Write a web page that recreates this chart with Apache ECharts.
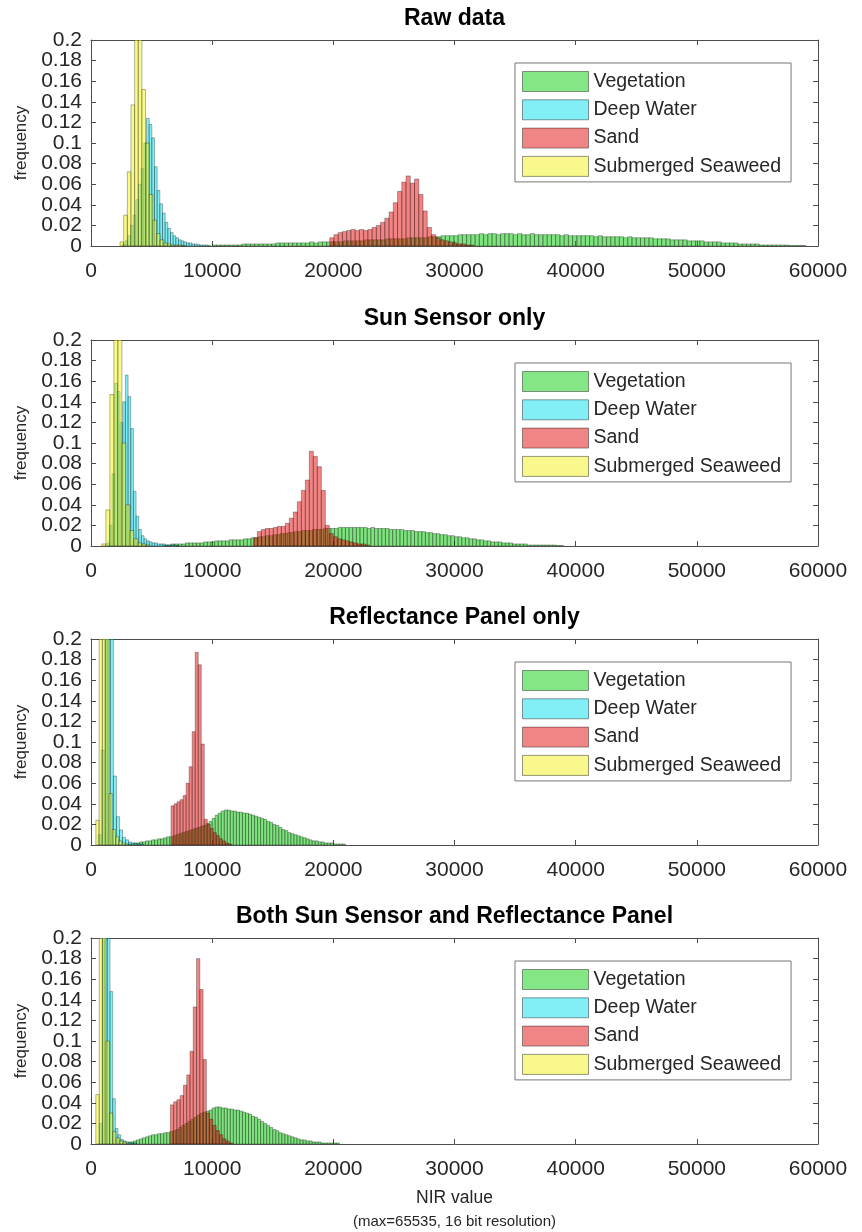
<!DOCTYPE html>
<html><head><meta charset="utf-8">
<script src="https://cdn.jsdelivr.net/npm/echarts@6/dist/echarts.min.js"></script>
<style>html,body{margin:0;padding:0;background:#fff}#c{width:862px;height:1232px}</style>
</head><body><div id="c"></div><script>
// ---------- DATA (histogram frequencies; each series: first bin start, bin width, heights) ----------
const seriesNames = ['Vegetation', 'Deep Water', 'Sand', 'Submerged Seaweed'];
const panelTitles = ['Raw data', 'Sun Sensor only', 'Reflectance Panel only', 'Both Sun Sensor and Reflectance Panel'];
const xTickValues = [0, 10000, 20000, 30000, 40000, 50000, 60000];
const yTickValues = [0, 0.02, 0.04, 0.06, 0.08, 0.1, 0.12, 0.14, 0.16, 0.18, 0.2];

// Panel 1: Raw data
const rawVegStart = 10000, rawVegWidth = 350;
const rawVeg = [0.001,0.001,0.001,0.001,0.001,0.001,0.001,0.002,0.002,0.002,
  0.002,0.002,0.002,0.002,0.002,0.003,0.003,0.003,0.003,0.003,
  0.003,0.003,0.003,0.004,0.003,0.004,0.004,0.004,0.004,0.004,
  0.004,0.005,0.005,0.005,0.005,0.005,0.006,0.006,0.006,0.006,
  0.006,0.007,0.007,0.007,0.007,0.007,0.008,0.008,0.008,0.008,
  0.008,0.009,0.009,0.009,0.010,0.010,0.010,0.010,0.011,0.011,
  0.011,0.011,0.011,0.012,0.011,0.012,0.012,0.011,0.012,0.012,
  0.012,0.011,0.012,0.011,0.011,0.012,0.011,0.011,0.011,0.011,
  0.011,0.011,0.010,0.011,0.010,0.010,0.010,0.010,0.010,0.010,
  0.009,0.010,0.009,0.009,0.009,0.009,0.009,0.008,0.009,0.008,
  0.008,0.008,0.008,0.008,0.007,0.007,0.007,0.007,0.006,0.006,
  0.006,0.006,0.005,0.005,0.005,0.005,0.004,0.004,0.004,0.004,
  0.003,0.003,0.003,0.003,0.002,0.002,0.002,0.002,0.002,0.001,
  0.001,0.001,0.001,0.001,0.001,0.001,0.0005,0.0005,0.0005,0.0005];
const rawWaterStart = 2600, rawWaterWidth = 220;
const rawWater = [0.002,0.005,0.01,0.02,0.03,0.045,0.06,0.075,0.1,0.124,0.118,0.105,0.077,0.054,0.041,0.032,0.023,0.017,0.013,0.01,0.008,0.006,0.005,0.004,0.003,0.003,0.002,0.002,0.0015,0.001,0.001,0.001,0.0005];
const rawSandStart = 19700, rawSandWidth = 350;
const rawSand = [0.008,0.011,0.013,0.014,0.015,0.016,0.015,0.016,0.015,0.016,0.018,0.02,0.023,0.027,0.033,0.042,0.053,0.062,0.068,0.061,0.065,0.05,0.034,0.018,0.011,0.008,0.006,0.005,0.004,0.003,0.002,0.002,0.001,0.001];
const rawWeedStart = 2400, rawWeedWidth = 300;
const rawWeed = [0.004,0.03,0.072,0.137,0.26,0.24,0.152,0.1,0.05,0.025,0.012,0.006,0.003,0.002,0.001,0.001,0.001,0.0005];

// Panel 2: Sun Sensor only
const sunVegStart = 6000, sunVegWidth = 300;
const sunVeg = [0.001,0.001,0.002,0.002,0.002,0.002,0.003,0.003,0.003,0.003,
  0.003,0.004,0.004,0.004,0.005,0.005,0.005,0.005,0.006,0.006,
  0.006,0.006,0.007,0.007,0.008,0.008,0.009,0.009,0.010,0.010,
  0.011,0.011,0.012,0.012,0.013,0.013,0.014,0.014,0.015,0.015,
  0.015,0.016,0.016,0.016,0.017,0.017,0.017,0.017,0.018,0.018,
  0.018,0.018,0.018,0.018,0.018,0.018,0.017,0.018,0.017,0.017,
  0.017,0.017,0.016,0.016,0.016,0.016,0.015,0.015,0.015,0.014,
  0.014,0.014,0.013,0.013,0.012,0.012,0.011,0.011,0.010,0.010,
  0.009,0.009,0.008,0.008,0.007,0.007,0.006,0.006,0.005,0.005,
  0.004,0.004,0.004,0.003,0.003,0.003,0.002,0.002,0.002,0.002,
  0.001,0.001,0.001,0.001,0.001,0.001,0.001,0.001,0.0005,0.0005];
const sunWaterStart = 1300, sunWaterWidth = 220;
const sunWater = [0.003,0.02,0.07,0.158,0.15,0.12,0.14,0.166,0.145,0.114,0.053,0.029,0.016,0.01,0.007,0.005,0.004,0.003,0.003,0.002,0.002,0.002,0.001,0.001,0.001,0.001,0.0005];
const sunSandStart = 13400, sunSandWidth = 330;
const sunSand = [0.008,0.014,0.016,0.017,0.017,0.018,0.019,0.019,0.022,0.027,0.033,0.043,0.054,0.064,0.092,0.087,0.077,0.054,0.02,0.012,0.009,0.007,0.006,0.005,0.004,0.003,0.002,0.002,0.001];
const sunWeedStart = 900, sunWeedWidth = 330;
const sunWeed = [0.002,0.035,0.147,0.28,0.25,0.1,0.04,0.015,0.007,0.003,0.002,0.001];

// Panel 3: Reflectance Panel only
const panVegStart = 3000, panVegWidth = 250;
const panVeg = [0.001,0.001,0.002,0.002,0.003,0.003,0.004,0.004,
  0.005,0.005,0.006,0.006,0.007,0.008,0.008,0.009,
  0.010,0.011,0.012,0.013,0.014,0.015,0.016,0.017,
  0.018,0.019,0.021,0.023,0.026,0.029,0.031,0.033,
  0.034,0.034,0.033,0.033,0.032,0.032,0.031,0.031,
  0.030,0.029,0.028,0.027,0.026,0.025,0.023,0.022,
  0.020,0.019,0.017,0.015,0.014,0.012,0.011,0.010,
  0.009,0.008,0.007,0.006,0.005,0.004,0.004,0.003,
  0.003,0.002,0.002,0.002,0.001,0.001,0.001,0.001];
const panWaterStart = 600, panWaterWidth = 250;
const panWater = [0.01,0.092,0.3,0.3,0.25,0.067,0.0275,0.0146,0.0075,0.005,0.003,0.002,0.0015,0.001,0.001];
const panSandStart = 6600, panSandWidth = 250;
const panSand = [0.038,0.04,0.042,0.044,0.048,0.06,0.076,0.11,0.187,0.175,0.098,0.025,0.02,0.016,0.012,0.009,0.006,0.004,0.002,0.001];
const panWeedStart = 400, panWeedWidth = 270;
const panWeed = [0.024,0.3,0.3,0.25,0.05,0.015,0.008,0.004,0.002,0.001];

// Panel 4: Both Sun Sensor and Reflectance Panel
const bothVegStart = 3000, bothVegWidth = 250;
const bothVeg = [0.001,0.002,0.003,0.004,0.005,0.006,0.007,0.008,
  0.009,0.009,0.010,0.010,0.011,0.011,0.012,0.013,
  0.014,0.016,0.018,0.020,0.022,0.024,0.026,0.028,
  0.030,0.031,0.032,0.033,0.035,0.036,0.036,0.035,
  0.035,0.034,0.034,0.033,0.033,0.032,0.031,0.030,
  0.029,0.027,0.026,0.024,0.022,0.020,0.018,0.016,
  0.014,0.013,0.011,0.010,0.009,0.008,0.007,0.006,
  0.005,0.004,0.004,0.003,0.003,0.002,0.002,0.002,
  0.001,0.001,0.001,0.001,0.001,0.001];
const bothWaterStart = 690, bothWaterWidth = 220;
const bothWater = [0.02,0.25,0.3,0.28,0.148,0.044,0.015,0.009,0.0045,0.003,0.002,0.002,0.001,0.001];
const bothSandStart = 6550, bothSandWidth = 270;
const bothSand = [0.038,0.041,0.043,0.047,0.057,0.067,0.09,0.133,0.18,0.15,0.082,0.03,0.024,0.018,0.013,0.009,0.005,0.003,0.001];
const bothWeedStart = 400, bothWeedWidth = 280;
const bothWeed = [0.048,0.3,0.3,0.1,0.03,0.012,0.006,0.003,0.002,0.001];

// ---------- BUILD ----------
const panels = [
  [[rawVegStart, rawVegWidth, rawVeg], [rawWaterStart, rawWaterWidth, rawWater], [rawSandStart, rawSandWidth, rawSand], [rawWeedStart, rawWeedWidth, rawWeed]],
  [[sunVegStart, sunVegWidth, sunVeg], [sunWaterStart, sunWaterWidth, sunWater], [sunSandStart, sunSandWidth, sunSand], [sunWeedStart, sunWeedWidth, sunWeed]],
  [[panVegStart, panVegWidth, panVeg], [panWaterStart, panWaterWidth, panWater], [panSandStart, panSandWidth, panSand], [panWeedStart, panWeedWidth, panWeed]],
  [[bothVegStart, bothVegWidth, bothVeg], [bothWaterStart, bothWaterWidth, bothWater], [bothSandStart, bothSandWidth, bothSand], [bothWeedStart, bothWeedWidth, bothWeed]]
];

const FF = '"Liberation Sans", Arial, Helvetica, sans-serif';
const fills = ['rgba(0,200,0,0.5)', 'rgba(0,225,240,0.5)', 'rgba(230,10,10,0.5)', 'rgba(245,245,20,0.5)'];
const legendFills = ['#84e684', '#82eef6', '#f08585', '#f8f88c'];
const EDGE = 'rgba(0,0,0,0.6)';
const AX = '#4d4d4d';
const TXT = '#262626';
const tops = [40, 340, 639, 938];
const H = 206, L = 91, W = 727;
const yFmt = v => String(+v.toFixed(2));

function hist(start, width, vals) {
  return vals.map((v, i) => [start + i * width, start + (i + 1) * width, v]);
}
function makeRender(fill) {
  return function (params, api) {
    const p0 = api.coord([api.value(0), api.value(2)]);
    const p1 = api.coord([api.value(1), 0]);
    return {
      type: 'rect',
      shape: { x: p0[0], y: p0[1], width: p1[0] - p0[0], height: p1[1] - p0[1] },
      style: { fill: fill, stroke: EDGE, lineWidth: 0.5 }
    };
  };
}

const grid = [], xAxis = [], yAxis = [], series = [], legend = [], graphic = [];
tops.forEach((t, i) => {
  grid.push({ left: L, top: t, width: W, height: H });
  const xBase = { gridIndex: i, type: 'value', min: 0, max: 60000, interval: 10000,
    axisLine: { show: true, onZero: false, lineStyle: { color: AX, width: 1 } },
    axisTick: { show: true, inside: true, length: 5, lineStyle: { color: AX } },
    splitLine: { show: false } };
  xAxis.push(Object.assign({}, xBase, { position: 'bottom',
    axisLabel: { show: true, fontSize: 21, color: TXT, fontFamily: FF, margin: 15,
      showMinLabel: true, showMaxLabel: true, formatter: v => String(v) } }));
  xAxis.push(Object.assign({}, xBase, { position: 'top', axisLabel: { show: false } }));
  const yBase = { gridIndex: i, type: 'value', min: 0, max: 0.2, interval: 0.02,
    axisLine: { show: true, onZero: false, lineStyle: { color: AX, width: 1 } },
    axisTick: { show: true, inside: true, length: 5, lineStyle: { color: AX } },
    splitLine: { show: false } };
  // left axis: inner tick labels 0.02 .. 0.18
  yAxis.push(Object.assign({}, yBase, { position: 'left',
    name: 'frequency', nameLocation: 'middle', nameGap: 60, nameRotate: 90,
    nameTextStyle: { fontSize: 17, color: TXT, fontFamily: FF },
    axisLabel: { show: true, margin: 9, showMinLabel: false, showMaxLabel: false,
      fontSize: 21, color: TXT, fontFamily: FF, formatter: yFmt } }));
  // right mirror axis: carries the end labels 0 and 0.2, placed on the left side
  yAxis.push(Object.assign({}, yBase, { position: 'right',
    axisLabel: { show: true, margin: -(W + 9), align: 'right', showMinLabel: true, showMaxLabel: true,
      fontSize: 21, color: TXT, fontFamily: FF,
      formatter: v => (v === 0 || Math.abs(v - 0.2) < 1e-9) ? yFmt(v) : '' } }));

  panels[i].forEach((s, k) => {
    series.push({
      type: 'custom', name: seriesNames[k], xAxisIndex: 2 * i, yAxisIndex: 2 * i,
      clip: true, renderItem: makeRender(fills[k]),
      itemStyle: { color: legendFills[k] },
      encode: { x: [0, 1], y: 2 },
      data: hist(s[0], s[1], s[2]), silent: true, animation: false
    });
  });

  legend.push({
    orient: 'vertical', left: 515, top: t + 23, padding: [8, 10, 5, 7],
    itemWidth: 66, itemHeight: 20, itemGap: 7.3, icon: 'rect', selectedMode: false,
    backgroundColor: '#fff', borderColor: '#777', borderWidth: 1, borderRadius: 0,
    textStyle: { fontSize: 19.5, color: TXT, fontFamily: FF, lineHeight: 20 },
    data: seriesNames.map((n, k) => ({ name: n, itemStyle: { color: legendFills[k], borderColor: 'rgba(0,0,0,0.4)', borderWidth: 1, opacity: 1 } }))
  });

  graphic.push({ type: 'text', x: L + W / 2, y: t - 21, z: 10,
    style: { text: panelTitles[i], font: 'bold 23px ' + FF, fill: '#000', textAlign: 'center', textVerticalAlign: 'middle' } });
});

graphic.push({ type: 'text', x: L + W / 2, y: 1198, style: { text: 'NIR value', font: '17.5px ' + FF, fill: TXT, textAlign: 'center', textVerticalAlign: 'middle' } });
graphic.push({ type: 'text', x: L + W / 2, y: 1222, style: { text: '(max=65535, 16 bit resolution)', font: '15px ' + FF, fill: TXT, textAlign: 'center', textVerticalAlign: 'middle' } });

const chart = echarts.init(document.getElementById('c'), null, { renderer: 'canvas' });
chart.setOption({ animation: false, backgroundColor: '#fff', grid, xAxis, yAxis, series, legend, graphic });
</script></body></html>
